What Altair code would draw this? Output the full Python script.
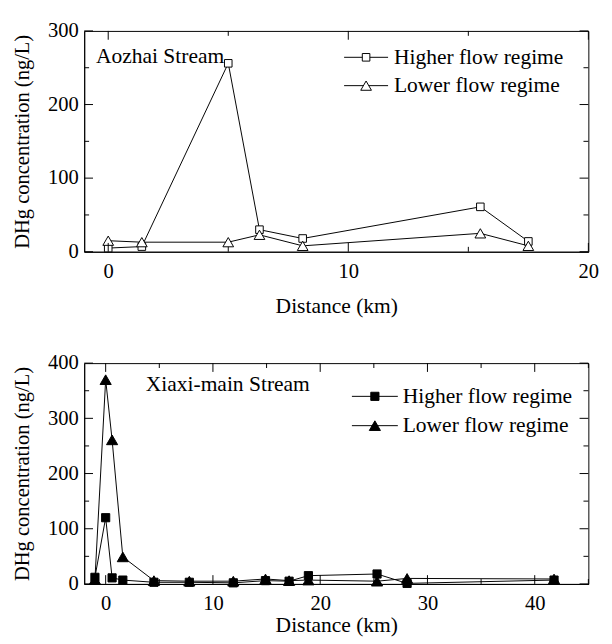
import altair as alt
import pandas as pd

FONT = "Liberation Serif"
REGIMES = ["Higher flow regime", "Lower flow regime"]

# Aozhai Stream
a_dist = [0.0, 1.4, 5.0, 6.3, 8.1, 15.5, 17.5]
a_high = [5, 7, 256, 30, 18, 61, 14]
a_low = [15, 13, 13, 23, 8, 25, 8]

# Xiaxi-main Stream
b_dist = [-1.0, 0.0, 0.6, 1.6, 4.5, 7.8, 11.9, 14.9, 17.1, 18.9, 25.3, 28.1, 41.8]
b_high = [12, 120, 11, 7, 3, 3, 2, 6, 5, 15, 18, 1, 7]
b_low = [8, 370, 261, 49, 6, 5, 5, 9, 6, 7, 5, 10, 9]

a_xmajor = [0, 10, 20]
a_xminor = [5, 15]
a_ymajor = [0, 100, 200, 300]
a_yminor = [50, 150, 250]
b_xmajor = [0, 10, 20, 30, 40]
b_xminor = [5, 15, 25, 35, 45]
b_ymajor = [0, 100, 200, 300, 400]
b_yminor = [50, 150, 250, 350]

W, H = 516, 226
MAJ, MIN = 9, 5


def panel(dist, high, low, xdom, ydom, xmaj, xmin, ymaj, ymin, filled,
          name, name_x, name_y, leg_x1, leg_x2, leg_tx, leg_y, sq_size, tri_size,
          x_lp, x_tp):
    df = pd.DataFrame({
        "Distance": dist + dist,
        "Conc": high + low,
        "Regime": [REGIMES[0]] * len(dist) + [REGIMES[1]] * len(dist),
    })
    xs = alt.Scale(domain=xdom, nice=False, zero=False)
    ys = alt.Scale(domain=ydom, nice=False, zero=False)
    x = alt.X("Distance:Q", scale=xs,
              axis=alt.Axis(values=xmaj, title="Distance (km)", ticks=False, grid=False,
                            labelFlush=False, labelPadding=x_lp, titlePadding=x_tp,
                            titleFontSize=22))
    y = alt.Y("Conc:Q", scale=ys,
              axis=alt.Axis(values=ymaj, title="DHg concentration (ng/L)", ticks=False, grid=False,
                            labelFlush=False, labelPadding=6, titlePadding=16,
                            titleFontSize=21))
    fill = "black" if filled else "white"
    lines = alt.Chart(df).mark_line(color="black", strokeWidth=1).encode(x=x, y=y, detail="Regime:N")
    sq = alt.Chart(df[df.Regime == REGIMES[0]]).mark_point(
        shape="square", size=sq_size, fill=fill, stroke="black", strokeWidth=1, opacity=1, fillOpacity=1
    ).encode(x=x, y=y)
    tri = alt.Chart(df[df.Regime == REGIMES[1]]).mark_point(
        shape="triangle-up", size=tri_size, fill=fill, stroke="black", strokeWidth=1, opacity=1, fillOpacity=1
    ).encode(x=x, y=y)

    layers = [lines, sq, tri]

    def xticks(vals, length):
        d = pd.DataFrame({"Distance": vals})
        bot = alt.Chart(d).mark_rule(color="black", strokeWidth=1).encode(
            x=alt.X("Distance:Q", scale=xs), y=alt.value(H), y2=alt.value(H - length))
        top = alt.Chart(d).mark_rule(color="black", strokeWidth=1).encode(
            x=alt.X("Distance:Q", scale=xs), y=alt.value(0), y2=alt.value(length))
        return [bot, top]

    def yticks(vals, length):
        d = pd.DataFrame({"Conc": vals})
        lft = alt.Chart(d).mark_rule(color="black", strokeWidth=1).encode(
            y=alt.Y("Conc:Q", scale=ys), x=alt.value(0), x2=alt.value(length))
        rgt = alt.Chart(d).mark_rule(color="black", strokeWidth=1).encode(
            y=alt.Y("Conc:Q", scale=ys), x=alt.value(W), x2=alt.value(W - length))
        return [lft, rgt]

    layers += xticks(xmaj, MAJ) + xticks(xmin, MIN) + yticks(ymaj, MAJ) + yticks(ymin, MIN)

    # stream name
    layers.append(alt.Chart(pd.DataFrame({"t": [name]})).mark_text(
        align="left", baseline="middle", font=FONT, fontSize=22, color="black"
    ).encode(text="t:N", x=alt.value(name_x), y=alt.value(name_y)))

    # manual legend
    shapes = ["square", "triangle-up"]
    sizes = [sq_size, tri_size]
    for i, reg in enumerate(REGIMES):
        ld = pd.DataFrame({"Regime": [reg]})
        yy = leg_y[i]
        layers.append(alt.Chart(ld).mark_rule(color="black", strokeWidth=1).encode(
            x=alt.value(leg_x1), x2=alt.value(leg_x2), y=alt.value(yy)))
        layers.append(alt.Chart(ld).mark_point(
            shape=shapes[i], size=sizes[i], fill=fill, stroke="black", strokeWidth=1, opacity=1, fillOpacity=1
        ).encode(x=alt.value((leg_x1 + leg_x2) / 2), y=alt.value(yy)))
        layers.append(alt.Chart(ld).mark_text(
            align="left", baseline="middle", font=FONT, fontSize=22, color="black"
        ).encode(text="Regime:N", x=alt.value(leg_tx), y=alt.value(yy)))

    return alt.layer(*layers).properties(width=W, height=H)


top = panel(a_dist, a_high, a_low, [-1, 20], [0, 300], a_xmajor, a_xminor, a_ymajor, a_yminor,
            False, "Aozhai Stream", 12, 26, 266, 311, 317, [27, 56], 60, 120, 9, 15)
bottom = panel(b_dist, b_high, b_low, [-2, 45], [0, 400], b_xmajor, b_xminor, b_ymajor, b_yminor,
               True, "Xiaxi-main Stream", 63, 22, 274, 321, 326, [34, 64], 70, 130, 9, 2)

chart = alt.vconcat(
    top, bottom, spacing=35, background="white",
    padding={"left": 3, "top": 4, "right": 5, "bottom": 0}
).configure_view(
    stroke="black", strokeWidth=1
).configure_axis(
    domainColor="black", domainWidth=1, labelFont=FONT, titleFont=FONT,
    labelFontSize=21, titleFontWeight="normal",
    labelColor="black", titleColor="black"
)

chart.save("out.html", embed_options={"renderer": "svg", "actions": False})
